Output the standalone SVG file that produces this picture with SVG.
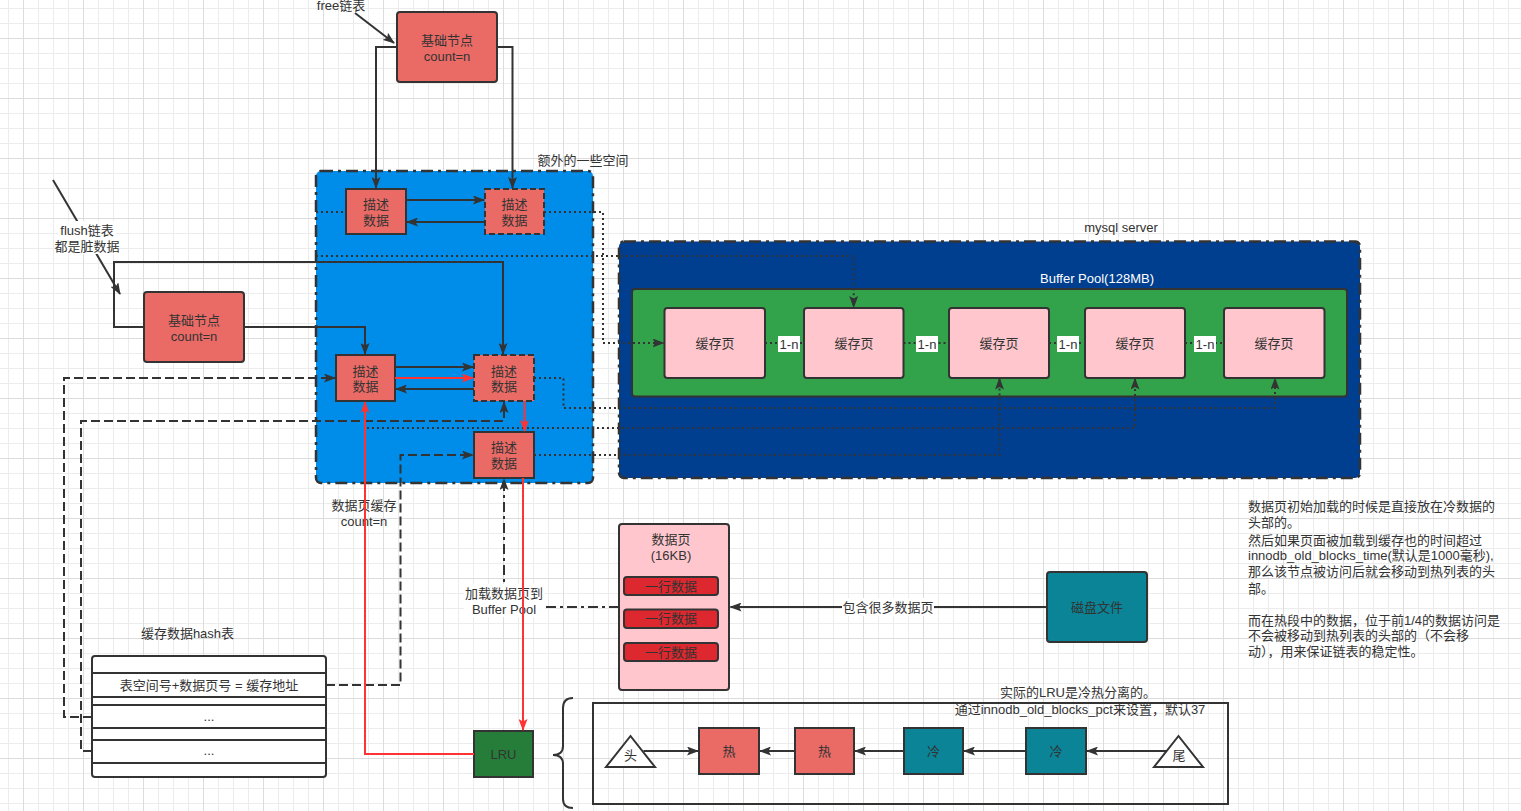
<svg xmlns="http://www.w3.org/2000/svg" width="1521" height="811" viewBox="0 0 1521 811">
<style>
.t{font-family:"Liberation Sans","Noto Sans CJK SC",sans-serif;font-size:13px;fill:#333;text-anchor:middle}
.tl{font-family:"Liberation Sans","Noto Sans CJK SC",sans-serif;font-size:13px;fill:#333}
.nd{stroke:#333;stroke-width:2}
.red{fill:#EA6B66}
.pink{fill:#FFC7CD}
.teal{fill:#0A8496}
.dash{stroke-dasharray:6 3}
.c{fill:none;stroke:#333;stroke-width:2}
.cs{marker-end:url(#ah)}
.dot{stroke-dasharray:2 3}
.dsh{stroke-dasharray:9 4}
.dd{stroke-dasharray:10 4 3 4}
.r{fill:none;stroke:#FF3333;stroke-width:2;marker-end:url(#ahr)}
.cont{stroke:#333;stroke-width:2.5;stroke-dasharray:12 5 3 5}
</style>
<defs>
<pattern id="grid" width="60" height="60" patternUnits="userSpaceOnUse" x="23" y="38">
<path d="M15.5 0V60M30.5 0V60M45.5 0V60M0 15.5H60M0 30.5H60M0 45.5H60" stroke="#ececec" stroke-width="1" fill="none"/>
<path d="M0.5 0V60M0 0.5H60" stroke="#dcdcdc" stroke-width="1" fill="none"/>
</pattern>
<marker id="ah" viewBox="0 0 12 9" markerUnits="userSpaceOnUse" markerWidth="12" markerHeight="9" refX="11" refY="4.5" orient="auto"><path d="M0,0 L12,4.5 L0,9 L2.5,4.5 z" fill="#333"/></marker>
<marker id="ahr" viewBox="0 0 12 9" markerUnits="userSpaceOnUse" markerWidth="12" markerHeight="9" refX="11" refY="4.5" orient="auto"><path d="M0,0 L12,4.5 L0,9 L2.5,4.5 z" fill="#FF3333"/></marker>
</defs>
<rect width="1521" height="811" fill="#fff"/>
<rect width="1521" height="811" fill="url(#grid)"/>

<g id="containers">
<g id="extra-space">
<rect x="316" y="171" width="277" height="312" rx="5" fill="#008CE9" class="cont"/>
<text class="t" x="583" y="164.5">额外的一些空间</text>
</g>
<g id="mysql-server">
<rect x="619" y="241.5" width="741" height="236.5" rx="5" fill="#003F8F" class="cont"/>
<text class="t" x="1121" y="231.5">mysql server</text>
<text class="t" x="1097" y="282.5" style="fill:#fff">Buffer Pool(128MB)</text>
</g>
<g id="buffer-pool">
<rect x="632" y="289" width="715" height="107.5" rx="3" fill="#33A34B" class="nd"/>
</g>
</g>

<g id="free-base">
<rect x="397" y="12" width="100" height="70" rx="3" class="red nd"/>
<text class="t" x="447" y="44.5">基础节点</text>
<text class="t" x="447" y="60.5">count=n</text>
</g>
<g id="flush-base">
<rect x="144" y="292" width="100" height="70" rx="3" class="red nd"/>
<text class="t" x="194" y="324.5">基础节点</text>
<text class="t" x="194" y="340.5">count=n</text>
</g>
<g id="desc1">
<rect x="346" y="189" width="60" height="45" class="red nd"/>
<text class="t" x="376" y="209">描述</text>
<text class="t" x="376" y="225">数据</text>
</g>
<g id="desc2">
<rect x="485" y="189" width="59" height="45" class="red nd dash"/>
<text class="t" x="514.5" y="209">描述</text>
<text class="t" x="514.5" y="225">数据</text>
</g>
<g id="desc3">
<rect x="336" y="355" width="59" height="46" class="red nd"/>
<text class="t" x="365.5" y="375.5">描述</text>
<text class="t" x="365.5" y="391">数据</text>
</g>
<g id="desc4">
<rect x="474" y="355" width="60" height="46" class="red nd dash"/>
<text class="t" x="504" y="375.5">描述</text>
<text class="t" x="504" y="391">数据</text>
</g>
<g id="desc5">
<rect x="474" y="432" width="60" height="46" class="red nd"/>
<text class="t" x="504" y="452">描述</text>
<text class="t" x="504" y="467.5">数据</text>
</g>

<g id="cache-pages">
<g id="page1"><rect x="664.5" y="308" width="100.5" height="70" rx="3" class="pink nd"/><text class="t" x="715" y="347.5">缓存页</text></g>
<g id="page2"><rect x="804" y="308" width="99.5" height="70" rx="3" class="pink nd"/><text class="t" x="854" y="347.5">缓存页</text></g>
<g id="page3"><rect x="949" y="308" width="100" height="70" rx="3" class="pink nd"/><text class="t" x="999" y="347.5">缓存页</text></g>
<g id="page4"><rect x="1085" y="308" width="100" height="70" rx="3" class="pink nd"/><text class="t" x="1135" y="347.5">缓存页</text></g>
<g id="page5"><rect x="1224" y="308" width="100.5" height="70" rx="3" class="pink nd"/><text class="t" x="1274" y="347.5">缓存页</text></g>
</g>

<g id="hash-table">
<text class="t" x="187.5" y="637.5">缓存数据hash表</text>
<rect x="92" y="656" width="234" height="121" rx="3" fill="#fff" class="nd"/>
<rect x="92" y="673" width="234" height="24" fill="#fff" class="nd"/>
<rect x="92" y="705" width="234" height="23" fill="#fff" class="nd"/>
<rect x="92" y="740" width="234" height="23" fill="#fff" class="nd"/>
<text class="t" x="209" y="689.5">表空间号+数据页号 = 缓存地址</text>
<text class="t" x="209" y="721">...</text>
<text class="t" x="209" y="755">...</text>
</g>

<g id="lru">
<rect x="474" y="731" width="59" height="46" fill="#267D3A" class="nd"/>
<text class="t" x="503.5" y="758.5">LRU</text>
</g>

<g id="data-page">
<rect x="619" y="524" width="110" height="166" rx="3" class="pink nd"/>
<text class="t" x="671" y="543.5">数据页</text>
<text class="t" x="671" y="559.5">(16KB)</text>
<rect x="624" y="577" width="94" height="18" rx="3" fill="#DC282E" class="nd"/>
<rect x="624" y="609.5" width="94" height="18.5" rx="3" fill="#DC282E" class="nd"/>
<rect x="624" y="643" width="94" height="18" rx="3" fill="#DC282E" class="nd"/>
<text class="t" x="671" y="590.5">一行数据</text>
<text class="t" x="671" y="623">一行数据</text>
<text class="t" x="671" y="656.5">一行数据</text>
</g>

<g id="disk-file">
<rect x="1047" y="572" width="100" height="70" rx="3" class="teal nd"/>
<text class="t" x="1097" y="611.5">磁盘文件</text>
</g>

<g id="lru-detail">
<path d="M573,698 Q563,698 563,708 V746 Q563,755 553,755 Q563,755 563,764 V799 Q563,808 573,808" fill="none" stroke="#333" stroke-width="2"/>
<rect x="593" y="703" width="635" height="101" fill="none" class="nd"/>
<text class="t" x="1078" y="697">实际的LRU是冷热分离的。</text>
<text class="t" x="1080" y="714">通过innodb_old_blocks_pct来设置，默认37</text>
<g id="head"><polygon points="630.5,736 655,767 606,767" fill="#fff" class="nd"/><text class="t" x="630.5" y="760">头</text></g>
<g id="hot1"><rect x="699" y="728" width="60" height="46" class="red nd"/><text class="t" x="729" y="755.5">热</text></g>
<g id="hot2"><rect x="795" y="728" width="59" height="46" class="red nd"/><text class="t" x="824.5" y="755.5">热</text></g>
<g id="cold1"><rect x="904" y="728" width="59" height="46" class="teal nd"/><text class="t" x="933.5" y="755.5">冷</text></g>
<g id="cold2"><rect x="1026" y="728" width="60" height="46" class="teal nd"/><text class="t" x="1056" y="755.5">冷</text></g>
<g id="tail"><polygon points="1178.5,736 1203,767 1154,767" fill="#fff" class="nd"/><text class="t" x="1179" y="760">尾</text></g>
</g>

<g id="note">
<text class="tl" x="1248" y="511">数据页初始加载的时候是直接放在冷数据的</text>
<text class="tl" x="1248" y="527">头部的。</text>
<text class="tl" x="1248" y="544.5">然后如果页面被加载到缓存也的时间超过</text>
<text class="tl" x="1248" y="560">innodb_old_blocks_time(默认是1000毫秒),</text>
<text class="tl" x="1248" y="576">那么该节点被访问后就会移动到热列表的头</text>
<text class="tl" x="1248" y="593">部。</text>
<text class="tl" x="1248" y="624.5">而在热段中的数据，位于前1/4的数据访问是</text>
<text class="tl" x="1248" y="640">不会被移动到热列表的头部的（不会移</text>
<text class="tl" x="1248" y="656">动），用来保证链表的稳定性。</text>
</g>

<g id="connectors">
<path class="c cs" d="M355,13 L394,43"/>
<text class="t" x="341" y="9.5">free链表</text>
<path class="c cs" d="M397,47 H376 V188"/>
<path class="c cs" d="M497,47 H512.5 V188"/>
<path class="c cs" d="M406,200 H484"/>
<path class="c cs" d="M485,222 H407"/>
<path class="c dot" d="M316,212 H346"/>
<path class="c dot cs" d="M544,212 H603 V343 H663.5"/>
<path class="c dot cs" d="M316,256 H853.7 V307"/>
<path class="c cs" d="M53,180 L120,294"/>
<rect x="58" y="221" width="58" height="33" fill="#fff"/>
<text class="t" x="87" y="234.5">flush链表</text>
<text class="t" x="87" y="250.5">都是脏数据</text>
<path class="c cs" d="M144,327 H114 V262 H503 V354"/>
<path class="c cs" d="M244,327 H365 V354"/>
<path class="c cs" d="M395,367 H473"/>
<path class="c cs" d="M474,389 H396"/>
<path class="c dsh cs" d="M92,717 H64 V378 H335"/>
<path class="c dsh cs" d="M92,751 H81 V421 H504 V402"/>
<path class="c dot cs" d="M367,428 H1135 V378.5"/>
<path class="c dot cs" d="M534,378 H563.5 V408 H1275 V378.5"/>
<path class="c dsh cs" d="M326,685 H400.5 V455 H473"/>
<path class="c dot cs" d="M534,455 H999.5 V378.5"/>
<path class="c dd cs" d="M619,607 H504 V479"/>
<rect x="464" y="584" width="81" height="33" fill="#fff"/>
<text class="t" x="504" y="597.5">加载数据页到</text>
<text class="t" x="504" y="613.5">Buffer Pool</text>
<text class="t" x="364" y="509.5">数据页缓存</text>
<text class="t" x="364" y="526">count=n</text>
<path class="c cs" d="M1047,607 H730.5"/>
<rect x="842" y="598" width="92" height="18" fill="#fff"/>
<text class="t" x="888" y="611.5">包含很多数据页</text>
<path class="c dot" d="M765,343 H804"/>
<path class="c dot" d="M903.5,343 H949"/>
<path class="c dot" d="M1049,343 H1085"/>
<path class="c dot" d="M1185,343 H1224"/>
<rect x="778" y="336" width="22" height="16" fill="#fff"/>
<text class="t" x="789" y="348.5">1-n</text>
<rect x="916" y="336" width="22" height="16" fill="#fff"/>
<text class="t" x="927" y="348.5">1-n</text>
<rect x="1057" y="336" width="22" height="16" fill="#fff"/>
<text class="t" x="1068" y="348.5">1-n</text>
<rect x="1194" y="336" width="22" height="16" fill="#fff"/>
<text class="t" x="1205" y="348.5">1-n</text>
<path class="c cs" d="M643.5,751 H698"/>
<path class="c cs" d="M795,751 H760"/>
<path class="c cs" d="M904,751 H855"/>
<path class="c cs" d="M1026,751 H964"/>
<path class="c cs" d="M1166,751 H1087"/>
<path class="r" d="M395,378 H473"/>
<path class="r" d="M524.5,401 V431"/>
<path class="r" d="M474,754 H365 V402"/>
<path class="r" d="M523,478 V730"/>
</g>
</svg>
